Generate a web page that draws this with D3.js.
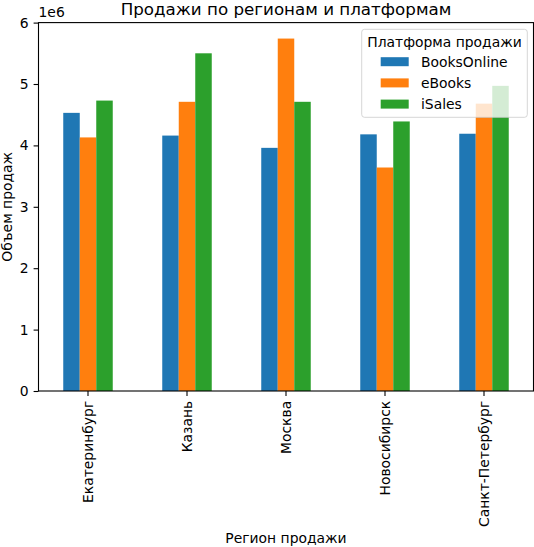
<!DOCTYPE html>
<html>
<head>
<meta charset="utf-8">
<script src="https://cdn.jsdelivr.net/npm/d3@7"></script>
<style>
  html, body { margin: 0; padding: 0; background: #fff; }
  svg { display: block; font-family: "DejaVu Sans", sans-serif; }
</style>
</head>
<body>
<svg id="chart" width="534" height="547"></svg>
<script>
const regions = ["Екатеринбург", "Казань", "Москва", "Новосибирск", "Санкт-Петербург"];
const platforms = ["BooksOnline", "eBooks", "iSales"];
const booksOnline = [4.53e6, 4.16e6, 3.96e6, 4.18e6, 4.19e6];
const eBooks      = [4.13e6, 4.71e6, 5.74e6, 3.64e6, 4.68e6];
const iSales      = [4.73e6, 5.50e6, 4.71e6, 4.39e6, 4.97e6];
const yTicks = [0, 1e6, 2e6, 3e6, 4e6, 5e6, 6e6];
const colors = ["#1f77b4", "#ff7f0e", "#2ca02c"];

const seriesValues = [booksOnline, eBooks, iSales];
const rows = regions.map((r, i) => ({
  region: r,
  values: platforms.map((p, j) => ({ platform: p, value: seriesValues[j][i] }))
}));

const width = 534, height = 547;
const margin = { top: 22.6, right: 0.5, bottom: 156, left: 38.5 };
const innerW = width - margin.left - margin.right;
const innerH = height - margin.top - margin.bottom;
const FONT = '"DejaVu Sans", sans-serif';

const svg = d3.select("#chart");
const g = svg.append("g")
  .attr("transform", `translate(${margin.left},${margin.top})`);

const x0 = d3.scaleBand().domain(regions).range([0, innerW])
  .paddingInner(0.5).paddingOuter(0.25);
const x1 = d3.scaleBand().domain(platforms).range([0, x0.bandwidth()]).padding(0);
const y = d3.scaleLinear().domain([0, 6e6]).range([innerH, 0]);
const color = d3.scaleOrdinal().domain(platforms).range(colors);

// bars
g.append("g")
  .selectAll("g")
  .data(rows)
  .join("g")
  .attr("transform", d => `translate(${x0(d.region)},0)`)
  .selectAll("rect")
  .data(d => d.values)
  .join("rect")
  .attr("x", d => x1(d.platform))
  .attr("width", x1.bandwidth())
  .attr("y", d => y(d.value))
  .attr("height", d => innerH - y(d.value))
  .attr("fill", d => color(d.platform));

// axes
const fs = 13.9;
const xAxis = g.append("g")
  .attr("transform", `translate(0,${innerH})`)
  .call(d3.axisBottom(x0).tickSize(4.9).tickPadding(4.9).tickSizeOuter(0))
  .attr("font-family", FONT)
  .attr("font-size", fs);
xAxis.select(".domain").remove();
xAxis.selectAll("text")
  .attr("fill", "#000")
  .attr("transform", "rotate(-90)")
  .attr("text-anchor", "end")
  .attr("x", -9.8)
  .attr("y", 0)
  .attr("dy", "0.35em");

const yAxis = g.append("g")
  .call(d3.axisLeft(y).tickValues(yTicks).tickFormat(v => v / 1e6)
    .tickSize(4.9).tickPadding(4.9).tickSizeOuter(0))
  .attr("font-family", FONT)
  .attr("font-size", fs);
yAxis.select(".domain").remove();
yAxis.selectAll("text").attr("fill", "#000");
g.selectAll(".tick line").attr("stroke", "#000").attr("stroke-width", 1.1);

// frame
g.append("rect")
  .attr("width", innerW).attr("height", innerH)
  .attr("fill", "none").attr("stroke", "#000").attr("stroke-width", 1.1);

// offset text
g.append("text")
  .attr("x", 0).attr("y", -6)
  .style("font-size", fs + "px")
  .text("1e6");

// title and labels
svg.append("text")
  .attr("x", margin.left + innerW / 2).attr("y", 15)
  .attr("text-anchor", "middle")
  .style("font-size", "16.7px")
  .text("Продажи по регионам и платформам");

svg.append("text")
  .attr("x", margin.left + innerW / 2).attr("y", 543)
  .attr("text-anchor", "middle")
  .style("font-size", fs + "px")
  .text("Регион продажи");

svg.append("text")
  .attr("transform", `translate(12,${margin.top + innerH / 2}) rotate(-90)`)
  .attr("text-anchor", "middle")
  .style("font-size", fs + "px")
  .text("Объем продаж");

// legend
const lg = svg.append("g").attr("transform", "translate(361.7,29.3)");
lg.append("rect")
  .attr("width", 165.6).attr("height", 88)
  .attr("rx", 2.8)
  .attr("fill", "#fff").attr("fill-opacity", 0.8)
  .attr("stroke", "#ccc").attr("stroke-opacity", 0.8);
lg.append("text")
  .attr("x", 82.8).attr("y", 12.4)
  .attr("text-anchor", "middle")
  .attr("dominant-baseline", "central")
  .style("font-size", fs + "px")
  .text("Платформа продажи");
const item = lg.selectAll("g.item")
  .data(platforms)
  .join("g")
  .attr("class", "item")
  .attr("transform", (d, i) => `translate(0,${32.4 + i * 21.2})`);
item.append("rect")
  .attr("x", 19).attr("y", -4.5)
  .attr("width", 28).attr("height", 9)
  .attr("fill", d => color(d));
item.append("text")
  .attr("x", 59.3).attr("y", 0)
  .attr("dominant-baseline", "central")
  .style("font-size", fs + "px")
  .text(d => d);
</script>
</body>
</html>
